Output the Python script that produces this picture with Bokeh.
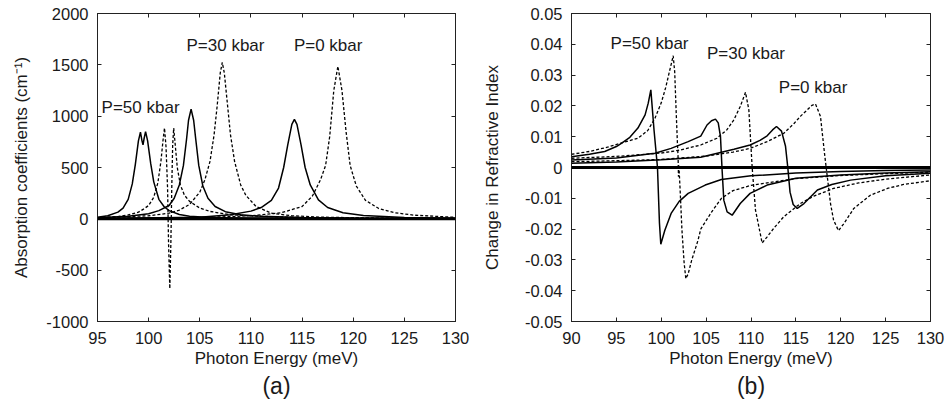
from bokeh.plotting import figure
from bokeh.layouts import row
from bokeh.models import (Span, Label, Title, LinearAxis, FixedTicker, Range1d,
                          CustomLabelingPolicy)
from bokeh.embed import file_html
from bokeh.resources import INLINE

# ---------------- Panel (a): absorption coefficients ----------------
a_x_ticks = [95, 100, 105, 110, 115, 120, 125, 130]
a_y_ticks = [-1000, -500, 0, 500, 1000, 1500, 2000]
a_y_tick_labels = ["-1000", "-500", "0", "500", "1000", "1500", "2000"]

a50_solid_x = [95, 96, 97, 97.5, 98, 98.4, 98.7, 99.0, 99.2, 99.35, 99.45, 99.55, 99.7, 99.9,
               100.2, 100.5, 101, 101.5, 102, 103, 104, 106, 110, 120, 130]
a50_solid_y = [15, 30, 65, 105, 190, 340, 530, 760, 845, 760, 720, 780, 850, 760,
               540, 360, 190, 120, 80, 42, 26, 13, 6, 2, 1]

a50_dash_x = [95, 97, 98, 99, 99.5, 100, 100.5, 100.9, 101.2, 101.4, 101.55, 101.7, 101.85,
              101.95, 102.07, 102.17, 102.27, 102.35, 102.45, 102.6, 102.8, 103.1, 103.5,
              104, 105, 106, 108, 110, 115, 120, 130]
a50_dash_y = [10, 22, 38, 65, 95, 130, 210, 350, 560, 760, 885, 700, 300,
              -250, -680, -250, 350, 720, 885, 720, 500, 330, 230,
              170, 105, 72, 40, 28, 12, 6, 2]

a30_solid_x = [95, 98, 100, 101, 102, 102.5, 103, 103.4, 103.7, 103.9, 104.15, 104.4, 104.6,
               104.9, 105.3, 105.8, 106.5, 107.5, 109, 111, 115, 120, 130]
a30_solid_y = [10, 25, 50, 80, 130, 200, 330, 520, 770, 960, 1068, 960, 780,
               520, 320, 200, 120, 70, 40, 25, 12, 6, 2]

a30_dash_x = [95, 100, 102, 103, 104, 105, 105.5, 106, 106.4, 106.7, 107.0, 107.2, 107.4,
              107.7, 108.0, 108.4, 109, 109.5, 110.5, 112, 114, 117, 122, 130]
a30_dash_y = [10, 30, 55, 85, 140, 260, 380, 560, 820, 1100, 1420, 1524, 1420,
              1120, 820, 560, 330, 230, 120, 55, 30, 16, 8, 3]

a0_solid_x = [95, 105, 108, 110, 111, 112, 112.7, 113.2, 113.6, 114.0, 114.25, 114.5, 114.9,
              115.3, 115.8, 116.6, 117.5, 119, 121, 125, 130]
a0_solid_y = [3, 15, 40, 75, 110, 180, 300, 500, 720, 920, 968, 920, 720,
              500, 330, 185, 110, 60, 32, 14, 6]

a0_dash_x = [95, 105, 110, 113, 115, 116, 116.8, 117.3, 117.7, 118.1, 118.5, 118.9, 119.3,
             119.7, 120.3, 121.2, 122.5, 124, 126, 130]
a0_dash_y = [3, 12, 30, 60, 120, 220, 380, 520, 800, 1250, 1486, 1250, 850,
             520, 320, 180, 100, 60, 35, 15]

# ---------------- Panel (b): change in refractive index ----------------
b_x_ticks = [90, 95, 100, 105, 110, 115, 120, 125, 130]
b_y_ticks = [-0.05, -0.04, -0.03, -0.02, -0.01, 0, 0.01, 0.02, 0.03, 0.04, 0.05]
b_y_tick_labels = ["-0.05", "-0.04", "-0.03", "-0.02", "-0.01", "0",
                   "0.01", "0.02", "0.03", "0.04", "0.05"]

b50_solid_x = [90, 92, 93.7, 95, 95.6, 96.5, 97.4, 98.2, 98.55, 98.84, 99.2, 99.58, 99.8, 99.95,
               100.4, 101.1, 102, 103, 104.9, 106.7, 110, 115, 120, 125, 130]
b50_solid_y = [0.0035, 0.0043, 0.0052, 0.0068, 0.0079, 0.0098, 0.0128, 0.0171, 0.0209, 0.0252,
               0.012, 0.0, -0.018, -0.0249, -0.0204, -0.0149, -0.011, -0.0084, -0.0057,
               -0.0039, -0.0027, -0.0018, -0.0013, -0.001, -0.0008]

b50_dash_x = [90, 92, 94, 95.6, 97.4, 98.5, 99.3, 100, 100.5, 100.9, 101.15, 101.33, 101.5,
              101.65, 101.8, 101.88, 101.92, 101.96, 102.1, 102.3, 102.55, 102.74, 103.0,
              103.4, 104.1, 104.4, 105.6, 106.7, 108, 110, 115, 120, 125, 130]
b50_dash_y = [0.0043, 0.0052, 0.0066, 0.008, 0.0095, 0.012, 0.016, 0.021, 0.026, 0.031,
              0.034, 0.0363, 0.031, 0.019, 0.008, 0.003, -0.003, 0.001, -0.007, -0.02,
              -0.031, -0.0361, -0.0345, -0.030, -0.0236, -0.020, -0.0145, -0.0100,
              -0.0075, -0.0058, -0.0036, -0.0026, -0.002, -0.0015]

b30_solid_x = [90, 95, 99.3, 101.1, 103, 104.4, 105.1, 105.6, 106.04, 106.35, 106.6, 106.78,
               106.97, 107.34, 107.9, 108.8, 109.9, 111.8, 115, 120, 125, 130]
b30_solid_y = [0.0024, 0.0031, 0.0046, 0.0062, 0.0084, 0.0102, 0.0138, 0.0152, 0.0157, 0.0145,
               0.010, -0.0008, -0.0106, -0.0144, -0.0155, -0.0117, -0.0084, -0.0057,
               -0.0035, -0.0024, -0.0018, -0.0014]

b30_dash_x = [90, 95, 100, 102, 104.4, 106.2, 107.3, 108.1, 108.8, 109.39, 109.76, 110.13,
              110.5, 111.24, 111.8, 112.6, 113.65, 115.5, 117, 119.2, 122, 125, 130]
b30_dash_y = [0.0030, 0.0036, 0.0047, 0.0056, 0.0073, 0.0095, 0.0122, 0.0155, 0.0198, 0.0244,
              0.0187, 0.0, -0.0138, -0.0245, -0.0225, -0.0195, -0.016, -0.0117, -0.0093,
              -0.0068, -0.005, -0.0038, -0.0024]

b0_solid_x = [90, 95, 100, 104.4, 108.1, 109.9, 111.0, 111.8, 112.4, 112.84, 113.4, 113.84,
              114.1, 114.35, 114.7, 115.15, 115.9, 117.4, 119, 121.1, 125, 130]
b0_solid_y = [0.0014, 0.0018, 0.0025, 0.0033, 0.0059, 0.0073, 0.0088, 0.0103, 0.0122, 0.0133,
              0.0118, 0.007, 0.0, -0.008, -0.012, -0.0133, -0.0117, -0.0073, -0.0055,
              -0.0041, -0.0027, -0.0019]

b0_dash_x = [90, 95, 100, 105, 108, 109.9, 111.8, 113.65, 114.8, 115.5, 116.3, 116.8, 117.19,
             117.74, 118.19, 118.41, 118.86, 119.2, 119.75, 120.4, 121.45, 123.3, 125.2, 127, 130]
b0_dash_y = [0.0019, 0.0022, 0.0026, 0.0037, 0.0050, 0.0062, 0.0084, 0.0111, 0.0143, 0.0166,
             0.0188, 0.0202, 0.0206, 0.0166, 0.0046, -0.0008, -0.0117, -0.0171, -0.0205,
             -0.018, -0.0133, -0.009, -0.0068, -0.0055, -0.0043]

FONT = "Liberation Sans"
TXT = "#1a1a1a"
TICK_FS = "16.5px"
TITLE_FS = "17px"
FIG_H = 410


def make_panel(width, xr, yr, xt, yt, ylabels, ylabel, caption, mbl, mbr, ylab_standoff):
    p = figure(width=width, height=FIG_H, output_backend="svg", toolbar_location=None,
               x_range=Range1d(*xr), y_range=Range1d(*yr),
               min_border_left=mbl, min_border_right=mbr, min_border_top=13,
               min_border_bottom=89)
    p.background_fill_color = "white"
    p.border_fill_color = "white"
    p.outline_line_color = "#222222"
    p.outline_line_width = 1
    p.xgrid.visible = False
    p.ygrid.visible = False

    p.xaxis.ticker = FixedTicker(ticks=xt)
    p.yaxis.ticker = FixedTicker(ticks=yt)
    p.yaxis.major_label_overrides = {t: s for t, s in zip(yt, ylabels)}
    for ax in (p.xaxis, p.yaxis):
        ax.major_tick_in = 4
        ax.major_tick_out = 0
        ax.minor_tick_line_color = None
        ax.axis_line_color = "#222222"
        ax.major_tick_line_color = "#222222"
        ax.major_label_text_font = FONT
        ax.major_label_text_font_size = TICK_FS
        ax.major_label_text_color = TXT
        ax.axis_label_text_font = FONT
        ax.axis_label_text_font_size = TITLE_FS
        ax.axis_label_text_font_style = "normal"
        ax.axis_label_text_color = TXT
    p.xaxis.major_label_standoff = 10
    p.yaxis.major_label_standoff = 9
    p.xaxis.axis_label = "Photon Energy (meV)"
    p.xaxis.axis_label_standoff = 2
    p.yaxis.axis_label = ylabel
    p.yaxis.axis_label_standoff = ylab_standoff

    # mirrored tick marks (no labels) on the right and top
    for place, tk in (("right", yt), ("above", xt)):
        ax = LinearAxis(ticker=FixedTicker(ticks=tk))
        ax.major_label_text_font_size = "0px"
        ax.major_label_standoff = 0
        ax.major_label_policy = CustomLabelingPolicy(
            code="const all = [...indices]; for (const i of all) indices.unset(i); return indices;")
        ax.major_tick_in = 4
        ax.major_tick_out = 0
        ax.minor_tick_line_color = None
        ax.axis_line_color = "#222222"
        ax.major_tick_line_color = "#222222"
        p.add_layout(ax, place)

    p.add_layout(Span(location=0, dimension="width", line_color="black", line_width=3))
    p.add_layout(Title(text=caption, align="center", text_font=FONT, text_font_size="23px",
                       text_font_style="normal", text_color=TXT, standoff=0), "below")
    return p


p1 = make_panel(475, (95, 130), (-1000, 2000), a_x_ticks, a_y_ticks, a_y_tick_labels,
                "Absorption coefficients (cm\u207b\u00b9)", "(a)", 97, 20, 12)
p2 = make_panel(476, (90, 130), (-0.05, 0.05), b_x_ticks, b_y_ticks, b_y_tick_labels,
                "Change in Refractive Index", "(b)", 96, 21, 20)

SOLID = dict(line_color="black", line_width=1.5)
DASH = dict(line_color="black", line_width=1.3, line_dash="3 2")

p1.line(a50_solid_x, a50_solid_y, **SOLID)
p1.line(a30_solid_x, a30_solid_y, **SOLID)
p1.line(a0_solid_x, a0_solid_y, **SOLID)
p1.line(a50_dash_x, a50_dash_y, **DASH)
p1.line(a30_dash_x, a30_dash_y, **DASH)
p1.line(a0_dash_x, a0_dash_y, **DASH)

p2.line(b50_solid_x, b50_solid_y, **SOLID)
p2.line(b30_solid_x, b30_solid_y, **SOLID)
p2.line(b0_solid_x, b0_solid_y, **SOLID)
p2.line(b50_dash_x, b50_dash_y, **DASH)
p2.line(b30_dash_x, b30_dash_y, **DASH)
p2.line(b0_dash_x, b0_dash_y, **DASH)

LBL = dict(text_font=FONT, text_font_size="17px", text_color=TXT,
           text_baseline="middle", text_align="left")
p1.add_layout(Label(x=95.4, y=1083, text="P=50 kbar", **LBL))
p1.add_layout(Label(x=103.7, y=1691, text="P=30 kbar", **LBL))
p1.add_layout(Label(x=114.2, y=1691, text="P=0 kbar", **LBL))
p2.add_layout(Label(x=94.35, y=0.0401, text="P=50 kbar", **LBL))
p2.add_layout(Label(x=105.1, y=0.0369, text="P=30 kbar", **LBL))
p2.add_layout(Label(x=113.1, y=0.026, text="P=0 kbar", **LBL))

layout = row(p1, p2)
open("out.html", "w").write(file_html(layout, INLINE))
